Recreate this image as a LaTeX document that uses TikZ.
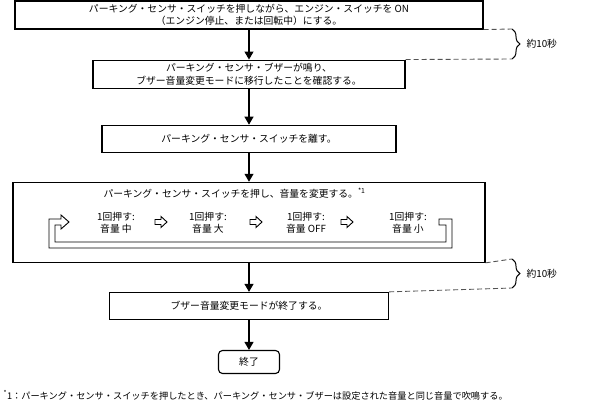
\documentclass[tikz,border=0pt]{standalone}
\usepackage{fontspec}
\newfontfamily\jpfont{Noto Sans CJK JP}
\usetikzlibrary{positioning, arrows.meta, decorations.pathreplacing}

\begin{document}
\begin{tikzpicture}[
            x = 1pt, y = -1pt,
     node distance = 30pt and 30pt,
every node/.style = {font=\jpfont\fontsize{9.8}{12.5}\selectfont},
        box/.style = {rectangle, draw, line width=1.1pt, fill=white,
                     minimum width=#1, minimum height=28pt,
                     inner sep=1pt, align=center},
        lvl/.style = {align=center, inner sep=0pt,
                     font=\jpfont\fontsize{9.8}{12}\selectfont},
     hollow/.style = {line width=0.9pt, fill=white, line join=miter},
        arr/.style = {line width=1.1pt, -{Triangle[length=8pt, width=9pt]}},
    gapline/.style = {dashed, dash pattern=on 5pt off 3pt,
                     line width=0.9pt, gray!65!black},
      brace/.style = {decorate, decoration={brace, amplitude=8pt},
                     line width=1pt}
                        ]
\useasboundingbox (0,0) rectangle (589,404);

\node (start) [box=468pt] at (249,15)
      {パーキング・センサ・スイッチを押しながら、エンジン・スイッチを ON\\（エンジン停止、または回転中）にする。};
\node (buzz) [box=312pt, below=30pt of start]
      {パーキング・センサ・ブザーが鳴り、\\ブザー音量変更モードに移行したことを確認する。};
\node (rel) [box=294pt, minimum height=27pt, below=36pt of buzz]
      {パーキング・センサ・スイッチを離す。};
\node (vol) [box=472pt, minimum height=80pt, below=29pt of rel] {};
\node (fin) [box=279pt, minimum height=27pt, below=29pt of vol]
      {ブザー音量変更モードが終了する。};
\node (end) [box=61pt, minimum height=23pt, rounded corners=4pt,
             below=30pt of fin] {終了};

% inside the volume box
\node (ttl) [anchor=west] at (100,193)
      {パーキング・センサ・スイッチを押し、音量を変更する。\textsuperscript{*1}};
\node (mid) [lvl] at (116,223) {1回押す:\\音量 中};
\node (lrg) [lvl] at (208,223) {1回押す:\\音量 大};
\node (off) [lvl] at (306,223) {1回押す:\\音量 OFF};
\node (low) [lvl] at (408,223) {1回押す:\\音量 小};
\foreach \ax in {161,256,347}
  \draw[hollow, shift={(\ax,222)}]
      (-6,-2.5) -- (0,-2.5) -- (0,-5.5) -- (6,0) -- (0,5.5) -- (0,2.5)
      -- (-6,2.5) -- cycle;
\draw[hollow]
      (439,219) -- (452,219) -- (452,248) -- (49,248) -- (49,219)
      -- (61,219) -- (61,215) -- (69,222) -- (61,229) -- (61,225)
      -- (55,225) -- (55,242) -- (446,242) -- (446,225) -- (439,225) -- cycle;

\draw[arr] (start) -- (buzz);
\draw[arr] (buzz) -- (rel);
\draw[arr] (rel) -- (vol);
\draw[arr] (vol) -- (fin);
\draw[arr] (fin) -- (end);

% about 10 s
\coordinate (t1) at (512,29);
\coordinate (t2) at (512,59);
\coordinate (t3) at (512,259);
\coordinate (t4) at (512,288);
\draw[gapline] (start.south east) -- (t1);
\draw[gapline] (buzz.north east) -- (t2);
\draw[gapline] (vol.south east) -- (t3);
\draw[gapline] (fin.north east) -- (t4);
\draw[brace] (t1) -- (t2);
\draw[brace] (t3) -- (t4);
\node (sec1) [anchor=west] at (523,44) {約10秒};
\node (sec2) [anchor=west] at (523,273.5) {約10秒};

\node (note) [anchor=west, font=\jpfont\fontsize{9.2}{11}\selectfont] at (0,395)
      {\textsuperscript{*}1：パーキング・センサ・スイッチを押したとき、パーキング・センサ・ブザーは設定された音量と同じ音量で吹鳴する。};
\end{tikzpicture}
\end{document}
